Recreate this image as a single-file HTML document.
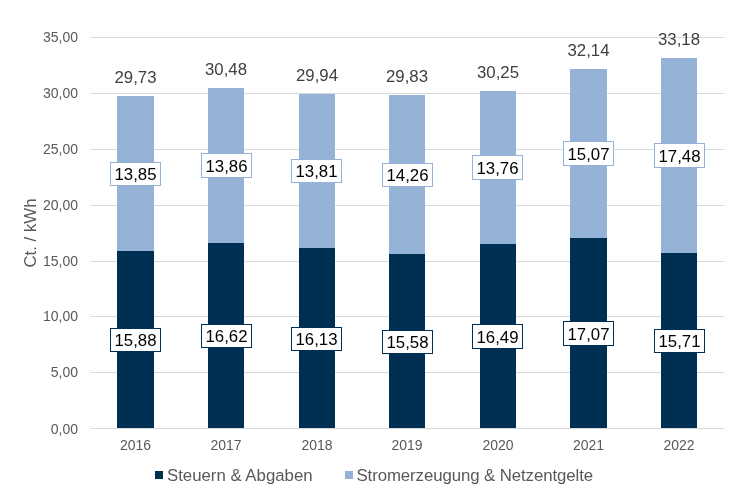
<!DOCTYPE html><html><head><meta charset="utf-8"><title>Chart</title><style>html,body{margin:0;padding:0;background:#fff}svg{display:block}text{font-family:"Liberation Sans",Arial,sans-serif}</style></head><body>
<svg width="730" height="500" viewBox="0 0 730 500">
<rect width="730" height="500" fill="#fff"/>
<line x1="90.4" x2="724.6" y1="428.50" y2="428.50" stroke="#D9D9D9" stroke-width="1"/>
<text x="78" y="433.70" font-size="14" fill="#595959" text-anchor="end">0,00</text>
<line x1="90.4" x2="724.6" y1="372.50" y2="372.50" stroke="#D9D9D9" stroke-width="1"/>
<text x="78" y="376.90" font-size="14" fill="#595959" text-anchor="end">5,00</text>
<line x1="90.4" x2="724.6" y1="316.50" y2="316.50" stroke="#D9D9D9" stroke-width="1"/>
<text x="78" y="320.90" font-size="14" fill="#595959" text-anchor="end">10,00</text>
<line x1="90.4" x2="724.6" y1="261.50" y2="261.50" stroke="#D9D9D9" stroke-width="1"/>
<text x="78" y="265.90" font-size="14" fill="#595959" text-anchor="end">15,00</text>
<line x1="90.4" x2="724.6" y1="205.50" y2="205.50" stroke="#D9D9D9" stroke-width="1"/>
<text x="78" y="209.90" font-size="14" fill="#595959" text-anchor="end">20,00</text>
<line x1="90.4" x2="724.6" y1="149.50" y2="149.50" stroke="#D9D9D9" stroke-width="1"/>
<text x="78" y="153.90" font-size="14" fill="#595959" text-anchor="end">25,00</text>
<line x1="90.4" x2="724.6" y1="93.50" y2="93.50" stroke="#D9D9D9" stroke-width="1"/>
<text x="78" y="97.90" font-size="14" fill="#595959" text-anchor="end">30,00</text>
<line x1="90.4" x2="724.6" y1="37.50" y2="37.50" stroke="#D9D9D9" stroke-width="1"/>
<text x="78" y="41.90" font-size="14" fill="#595959" text-anchor="end">35,00</text>
<rect x="117" y="251.00" width="37" height="177.00" fill="#002F54"/>
<rect x="117" y="96.00" width="37" height="155.00" fill="#95B3D7"/>
<text x="135.50" y="450" font-size="14" fill="#595959" text-anchor="middle">2016</text>
<text x="135.50" y="83.00" font-size="16.8" fill="#404040" text-anchor="middle">29,73</text>
<rect x="110.5" y="328.5" width="50" height="23" fill="#fff" stroke="#002F54" stroke-width="1"/>
<text x="135.50" y="346.00" font-size="16.8" fill="#000" text-anchor="middle">15,88</text>
<rect x="110.5" y="162.5" width="50" height="23" fill="#fff" stroke="#95B3D7" stroke-width="1"/>
<text x="135.50" y="180.00" font-size="16.8" fill="#000" text-anchor="middle">13,85</text>
<rect x="208" y="243.00" width="36" height="185.00" fill="#002F54"/>
<rect x="208" y="88.00" width="36" height="155.00" fill="#95B3D7"/>
<text x="226.00" y="450" font-size="14" fill="#595959" text-anchor="middle">2017</text>
<text x="226.00" y="75.00" font-size="16.8" fill="#404040" text-anchor="middle">30,48</text>
<rect x="201.5" y="324.5" width="50" height="23" fill="#fff" stroke="#002F54" stroke-width="1"/>
<text x="226.50" y="342.00" font-size="16.8" fill="#000" text-anchor="middle">16,62</text>
<rect x="201.5" y="153.5" width="50" height="24" fill="#fff" stroke="#95B3D7" stroke-width="1"/>
<text x="226.50" y="171.80" font-size="16.8" fill="#000" text-anchor="middle">13,86</text>
<rect x="299" y="248.00" width="36" height="180.00" fill="#002F54"/>
<rect x="299" y="94.00" width="36" height="154.00" fill="#95B3D7"/>
<text x="317.00" y="450" font-size="14" fill="#595959" text-anchor="middle">2018</text>
<text x="317.00" y="81.00" font-size="16.8" fill="#404040" text-anchor="middle">29,94</text>
<rect x="291.5" y="327.5" width="50" height="23" fill="#fff" stroke="#002F54" stroke-width="1"/>
<text x="316.50" y="345.00" font-size="16.8" fill="#000" text-anchor="middle">16,13</text>
<rect x="291.5" y="159.5" width="50" height="23" fill="#fff" stroke="#95B3D7" stroke-width="1"/>
<text x="316.50" y="177.00" font-size="16.8" fill="#000" text-anchor="middle">13,81</text>
<rect x="389" y="254.00" width="36" height="174.00" fill="#002F54"/>
<rect x="389" y="95.00" width="36" height="159.00" fill="#95B3D7"/>
<text x="407.00" y="450" font-size="14" fill="#595959" text-anchor="middle">2019</text>
<text x="407.00" y="82.00" font-size="16.8" fill="#404040" text-anchor="middle">29,83</text>
<rect x="382.5" y="330.5" width="50" height="23" fill="#fff" stroke="#002F54" stroke-width="1"/>
<text x="407.50" y="348.00" font-size="16.8" fill="#000" text-anchor="middle">15,58</text>
<rect x="382.5" y="163.5" width="50" height="23" fill="#fff" stroke="#95B3D7" stroke-width="1"/>
<text x="407.50" y="181.00" font-size="16.8" fill="#000" text-anchor="middle">14,26</text>
<rect x="480" y="244.00" width="36" height="184.00" fill="#002F54"/>
<rect x="480" y="91.00" width="36" height="153.00" fill="#95B3D7"/>
<text x="498.00" y="450" font-size="14" fill="#595959" text-anchor="middle">2020</text>
<text x="498.00" y="78.00" font-size="16.8" fill="#404040" text-anchor="middle">30,25</text>
<rect x="472.5" y="324.5" width="50" height="24" fill="#fff" stroke="#002F54" stroke-width="1"/>
<text x="497.50" y="342.80" font-size="16.8" fill="#000" text-anchor="middle">16,49</text>
<rect x="472.5" y="155.5" width="50" height="24" fill="#fff" stroke="#95B3D7" stroke-width="1"/>
<text x="497.50" y="173.80" font-size="16.8" fill="#000" text-anchor="middle">13,76</text>
<rect x="570" y="238.00" width="37" height="190.00" fill="#002F54"/>
<rect x="570" y="69.00" width="37" height="169.00" fill="#95B3D7"/>
<text x="588.50" y="450" font-size="14" fill="#595959" text-anchor="middle">2021</text>
<text x="588.50" y="56.00" font-size="16.8" fill="#404040" text-anchor="middle">32,14</text>
<rect x="563.5" y="321.5" width="50" height="24" fill="#fff" stroke="#002F54" stroke-width="1"/>
<text x="588.50" y="339.80" font-size="16.8" fill="#000" text-anchor="middle">17,07</text>
<rect x="563.5" y="141.5" width="50" height="24" fill="#fff" stroke="#95B3D7" stroke-width="1"/>
<text x="588.50" y="159.80" font-size="16.8" fill="#000" text-anchor="middle">15,07</text>
<rect x="661" y="253.00" width="36" height="175.00" fill="#002F54"/>
<rect x="661" y="58.00" width="36" height="195.00" fill="#95B3D7"/>
<text x="679.00" y="450" font-size="14" fill="#595959" text-anchor="middle">2022</text>
<text x="679.00" y="45.00" font-size="16.8" fill="#404040" text-anchor="middle">33,18</text>
<rect x="654.5" y="329.5" width="50" height="23" fill="#fff" stroke="#002F54" stroke-width="1"/>
<text x="679.50" y="347.00" font-size="16.8" fill="#000" text-anchor="middle">15,71</text>
<rect x="654.5" y="143.5" width="50" height="24" fill="#fff" stroke="#95B3D7" stroke-width="1"/>
<text x="679.50" y="161.80" font-size="16.8" fill="#000" text-anchor="middle">17,48</text>
<text transform="translate(36,233) rotate(-90)" font-size="16.8" fill="#595959" text-anchor="middle">Ct. / kWh</text>
<rect x="155" y="471" width="8" height="8" fill="#002F54"/>
<text x="167" y="480.5" font-size="16.8" fill="#595959">Steuern &amp; Abgaben</text>
<rect x="345" y="471" width="8" height="8" fill="#95B3D7"/>
<text x="356.5" y="480.5" font-size="16.8" fill="#595959" textLength="236.6" lengthAdjust="spacing">Stromerzeugung &amp; Netzentgelte</text>
</svg></body></html>
